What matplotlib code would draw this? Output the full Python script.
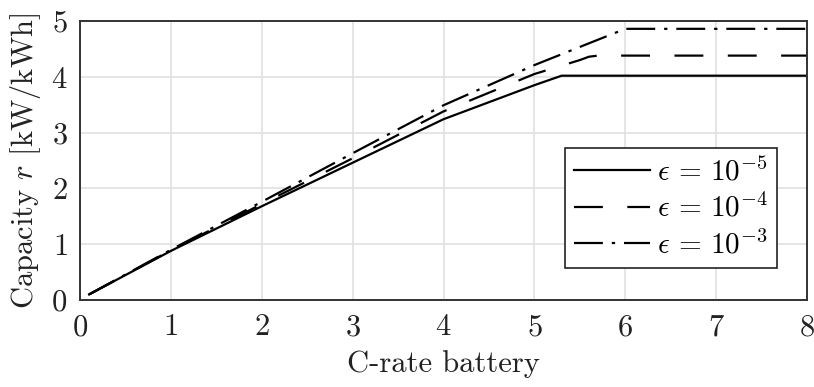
import matplotlib
matplotlib.use('Agg')
import matplotlib.pyplot as plt

plt.rcParams['font.family'] = 'serif'
plt.rcParams['font.serif'] = ['cmr10']
plt.rcParams['mathtext.fontset'] = 'cm'
plt.rcParams['axes.unicode_minus'] = False
plt.rcParams['axes.formatter.use_mathtext'] = True

# C-rate vs capacity, one curve per tolerance
x_e5 = [0.1, 1, 2, 3, 4, 5, 5.3, 8]
y_e5 = [0.1, 0.88, 1.68, 2.46, 3.24, 3.85, 4.02, 4.02]

x_e4 = [0.1, 1, 2, 3, 4, 5, 5.5, 5.6, 5.7, 8]
y_e4 = [0.1, 0.89, 1.72, 2.54, 3.38, 4.05, 4.30, 4.36, 4.38, 4.38]

x_e3 = [0.1, 1, 2, 3, 4, 5, 6, 8]
y_e3 = [0.1, 0.90, 1.76, 2.63, 3.49, 4.21, 4.86, 4.86]

labels = [r'$\epsilon\, =\, 10^{-5}$', r'$\epsilon\, =\, 10^{-4}$', r'$\epsilon\, =\, 10^{-3}$']

fig = plt.figure(figsize=(8.14, 3.87), dpi=100)
ax = fig.add_axes([0.0983, 0.2248, 0.8931, 0.7209])
lw = 1.6
fs = 22

ax.plot(x_e5, y_e5, color='black', linestyle='-', linewidth=lw, label=labels[0])
ax.plot(x_e4, y_e4, color='black', linestyle=(0, (13, 11)), linewidth=lw, label=labels[1])
ax.plot(x_e3, y_e3, color='black', linestyle=(0, (13, 4, 1.5, 4)), linewidth=lw, label=labels[2])

ax.set_xlim(0, 8)
ax.set_ylim(0, 5)
ax.set_xticks(range(0, 9))
ax.set_yticks(range(0, 6))
ax.grid(True, color='#e0e0e0', linewidth=1.2)
ax.set_axisbelow(True)
for s in ax.spines.values():
    s.set_color('#333333')
    s.set_linewidth(1.4)
ax.tick_params(length=0, labelsize=fs, pad=10, labelcolor='#222222')
ax.tick_params(axis='y', pad=9)

ax.set_xlabel('C-rate battery', fontsize=fs, labelpad=6, color='#222222')
ax.set_ylabel(r'Capacity $r$ [kW/kWh]', fontsize=fs, labelpad=6, color='#222222')

leg = ax.legend(loc='lower right', bbox_to_anchor=(0.959, 0.115), fontsize=fs - 1,
                fancybox=False, framealpha=1, edgecolor='#222222',
                handlelength=2.6, handletextpad=0.25, borderpad=0.3,
                labelspacing=0.25, borderaxespad=0)
leg.get_frame().set_linewidth(1.2)

plt.savefig('out.png', dpi=100)
